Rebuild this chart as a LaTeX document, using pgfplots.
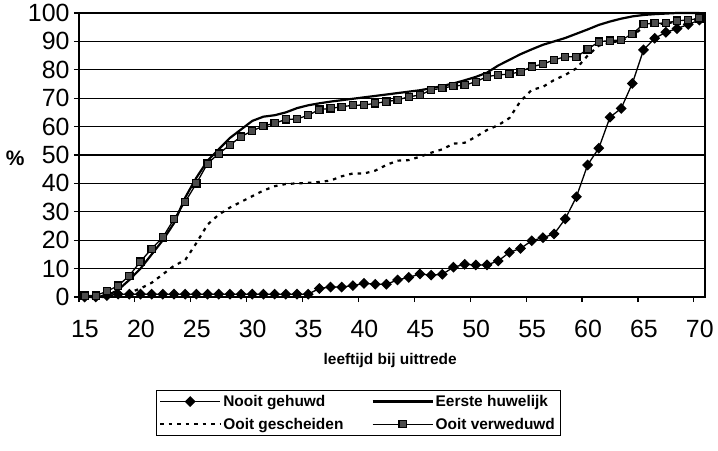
\documentclass[border=0pt]{standalone}
\usepackage{fontspec}
\setmainfont{Liberation Sans}
\usepackage{pgfplots}
\usepackage{pgfplotstable}
\pgfplotsset{compat=1.18}

\pgfplotstableread{
x ng eh og ov
15 0 0 0 0.5
16 0 0 0 0.5
17 0.5 0.5 0 2
18 1 2.5 0.5 4
19 1 6 1.5 7.5
20 1 10 3 12.5
21 1 15 5 17
22 1 20 8 21
23 1 26 11 27.5
24 1 35 13 33.5
25 1 42 19 40
26 1 48 25.5 47
27 1 52 29 50.5
28 1 56 31.5 53.5
29 1 59 33.5 56.5
30 1 62 35.5 58.5
31 1 63.5 37.5 60.2
32 1 64 39 61.2
33 1 65 39.8 62.5
34 1 66.5 40 62.7
35 1 67.5 40.2 64
36 3 68.2 40.5 66
37 3.5 68.8 41 66.4
38 3.5 69.3 42.5 67
39 4 69.8 43.5 67.5
40 4.8 70.3 43.5 67.6
41 4.5 70.8 44.5 68.2
42 4.5 71.3 46.5 68.8
43 6 71.8 48 69.4
44 6.9 72.3 48.2 70.5
45 8.1 72.8 49.4 71.1
46 7.7 73.5 50.8 72.9
47 8 74.3 52 73.5
48 10.5 75.2 54 74.3
49 11.5 76.3 54.3 74.6
50 11.3 77.5 56.4 75.8
51 11.3 79 58.8 77.6
52 12.7 81.5 60.5 78.2
53 15.7 83.5 63 78.5
54 17.1 85.5 69 79.3
55 19.8 87.2 72.9 81.1
56 20.9 88.8 74 82
57 22.2 90 76.4 83.5
58 27.5 91.2 78.2 84.6
59 35.3 92.7 80.5 84.6
60 46.5 94.2 85 87.2
61 52.4 95.8 88.5 89.9
62 63.3 97 89.5 90.3
63 66.4 98 90.3 90.5
64 75.2 98.8 92 92.6
65 87 99.3 95 96.1
66 91.1 99.6 96 96.4
67 93.2 99.8 96.3 96.4
68 94.5 100 97 97.3
69 96 100 97.3 97.5
70 97.5 100 98 98.1
}\datatable

\begin{document}
\begin{tikzpicture}
\path[use as bounding box] (-79bp,-154bp) rectangle (639bp,297bp);
\begin{axis}[
  at={(0bp,0bp)}, anchor=south west,
  scale only axis, width=626bp, height=284bp,
  xmin=14.5, xmax=70.5, ymin=0, ymax=100,
  xtick={14.5,19.5,24.5,29.5,34.5,39.5,44.5,49.5,54.5,59.5,64.5,69.5},
  xticklabels={15,20,25,30,35,40,45,50,55,60,65,70},
  ytick={0,10,20,30,40,50,60,70,80,90,100},
  /pgf/number format/assume math mode=true,
  ymajorgrids,
  major grid style={black, line width=1.1bp},
  axis line style={black, line width=1.3bp},
  tick style={black, line width=1.2bp},
  tick align=outside, major tick length=5bp,
  xtick pos=bottom, ytick pos=left,
  ticklabel style={font=\fontsize{25}{25}\selectfont},
  xticklabel style={anchor=center, yshift=-27bp, xshift=6bp},
  yticklabel style={anchor=east, xshift=-1bp},
  xlabel={\fontsize{15.5}{16}\selectfont\bfseries leeftijd bij uittrede},
  ylabel={\fontsize{21}{21}\selectfont\bfseries\%},
  every axis x label/.style={at={(axis description cs:0.497,-0.222)}, anchor=center},
  every axis y label/.style={at={(axis description cs:-0.102,0.489)}, anchor=center},
  clip=false,
  legend style={at={(axis description cs:0.4457,-0.3275)}, anchor=north,
    draw=black, font=\fontsize{15.5}{16}\selectfont\bfseries,
    /tikz/every even column/.append style={column sep=26bp},
    row sep=6bp, inner xsep=3bp, inner ysep=3bp},
  legend columns=2,
  legend cell align=left,
  legend image code/.code={\draw[mark repeat=2,mark phase=2,#1] plot coordinates {(0bp,0bp) (30bp,0bp) (60bp,0bp)};},
]
\addplot[black, line width=1.3bp, mark=square*, mark size=3.2bp, mark options={rotate=45, fill=black, solid}] table[x=x,y=ng] {\datatable};
\addlegendentry{Nooit gehuwd}
\addplot[black, line width=2.2bp, no marks] table[x=x,y=eh] {\datatable};
\addlegendentry{Eerste huwelijk}
\addplot[black, line width=2.2bp, no marks, dash pattern=on 3.5bp off 5bp] table[x=x,y=og] {\datatable};
\addlegendentry{Ooit gescheiden}
\addplot[black, line width=1.3bp, mark=square*, mark size=3.6bp, mark options={fill=black!70, draw=black, line width=1.2bp, solid}] table[x=x,y=ov] {\datatable};
\addlegendentry{Ooit verweduwd}
\end{axis}
\end{tikzpicture}
\end{document}
